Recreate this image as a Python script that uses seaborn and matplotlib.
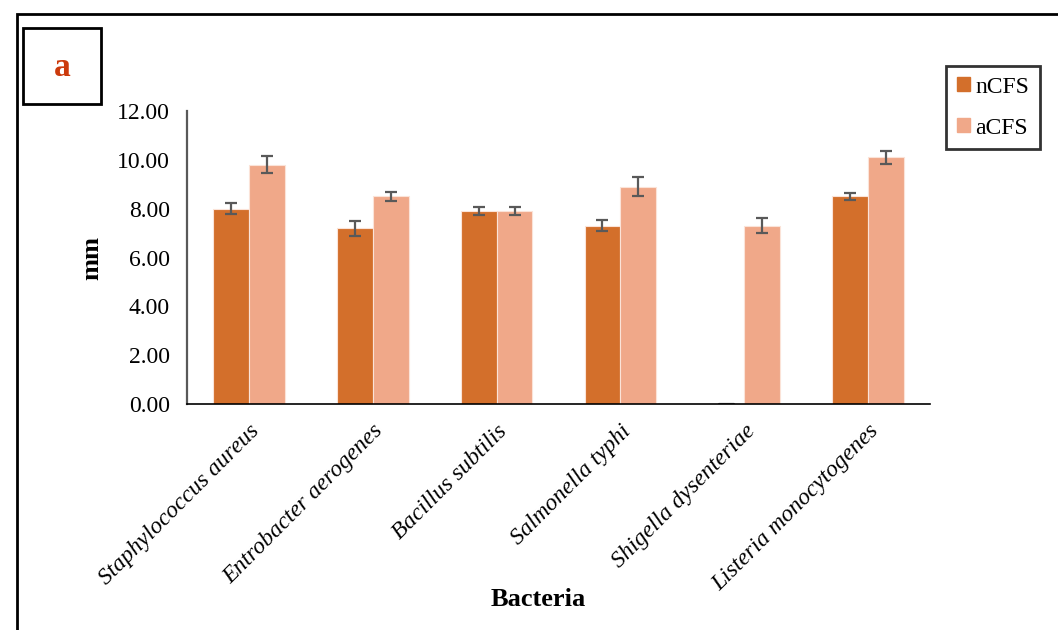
import matplotlib
matplotlib.use("Agg")
import matplotlib.pyplot as plt
import matplotlib.patches as mpatches
import seaborn as sns
import pandas as pd
import numpy as np

bacteria = ["Staphylococcus aureus", "Entrobacter aerogenes", "Bacillus subtilis",
            "Salmonella typhi", "Shigella dysenteriae", "Listeria monocytogenes"]
ncfs = [8.0, 7.2, 7.9, 7.3, 0.0, 8.5]
acfs = [9.8, 8.5, 7.9, 8.9, 7.3, 10.1]
ncfs_err = [0.23, 0.30, 0.17, 0.22, 0.0, 0.14]
acfs_err = [0.35, 0.20, 0.17, 0.38, 0.30, 0.27]
series = ["nCFS", "aCFS"]
yticks = [0, 2, 4, 6, 8, 10, 12]

sns.set_style("white")
plt.rcParams['font.family'] = ['Liberation Serif', 'DejaVu Serif']
for k in ["text.color", "axes.labelcolor", "xtick.color", "ytick.color"]:
    plt.rcParams[k] = "black"

df = pd.DataFrame({
    "Bacteria": bacteria * 2,
    "Series": [series[0]] * 6 + [series[1]] * 6,
    "mm": ncfs + acfs,
    "err": ncfs_err + acfs_err,
})

fig = plt.figure(figsize=(10.58, 6.30), dpi=100)
ax = fig.add_axes([187/1058, 1-404/630, (930-187)/1058, (404-111)/630])
colors = {"nCFS": "#D36F2B", "aCFS": "#F0A889"}
sns.barplot(data=df, x="Bacteria", y="mm", hue="Series", palette=colors,
            width=0.58, errorbar=None, ax=ax, legend=False,
            edgecolor="#FBE3D8", linewidth=0.8, saturation=1)

# error bars
for container, errs in zip(ax.containers, [ncfs_err, acfs_err]):
    for bar, e in zip(container, errs):
        xc = bar.get_x() + bar.get_width() / 2
        h = bar.get_height()
        if e > 0:
            ax.errorbar(xc, h, yerr=e, fmt="none", ecolor="#595959",
                        elinewidth=1.6, capsize=4.5, capthick=1.6, zorder=5)
        else:
            ax.plot([xc - 0.06, xc + 0.06], [h, h], color="#595959", lw=1.6)

ax.set_ylim(0, 12)
ax.set_xlim(-0.5, 5.5)
ax.set_yticks(yticks)
ax.set_yticklabels([f"{v:.2f}" for v in yticks], fontsize=17)
ax.set_xticks(range(len(bacteria)))
ax.set_xticklabels(bacteria, rotation=45, ha="right", rotation_mode="anchor",
                   fontsize=17, style="italic")
ax.tick_params(axis="y", length=0, pad=12.5)
ax.tick_params(axis="x", length=0, pad=12)
for s in ["top", "right"]:
    ax.spines[s].set_visible(False)
ax.spines["left"].set_color("#595959")
ax.spines["left"].set_linewidth(1.6)
ax.spines["bottom"].set_color("black")
ax.spines["bottom"].set_linewidth(1.2)
ax.set_ylabel("mm", fontsize=19, fontweight="bold")
ax.yaxis.set_label_coords(-0.112, 0.5)
ax.set_xlabel("Bacteria", fontsize=19, fontweight="bold")
ax.xaxis.set_label_coords(0.4724, -0.628)

# figure border
fig.patches.append(mpatches.Rectangle((17/1058, -0.1), 1.2, 1-14/630+0.1,
                                      transform=fig.transFigure, fill=False,
                                      edgecolor="black", linewidth=2, clip_on=False))
# 'a' box
fig.patches.append(mpatches.Rectangle((23/1058, 1-104/630), 78/1058, 76/630,
                                      transform=fig.transFigure, fill=False,
                                      edgecolor="black", linewidth=2))
fig.text((23+39)/1058, 1-68/630, "a", color="#CC3A0C", fontsize=24,
         fontweight="bold", ha="center", va="center")

handles = [mpatches.Patch(color=colors[s], label=s) for s in series]
leg = fig.legend(handles=handles, loc="upper left",
                 bbox_to_anchor=(946/1058, 1-66/630), fontsize=17,
                 frameon=True, fancybox=False, handlelength=0.55, handleheight=0.55,
                 handletextpad=0.25, labelspacing=0.85, borderpad=0.45,
                 borderaxespad=0)
leg.get_frame().set_edgecolor("black")
leg.get_frame().set_linewidth(2)

fig.savefig("out.png", dpi=100)
